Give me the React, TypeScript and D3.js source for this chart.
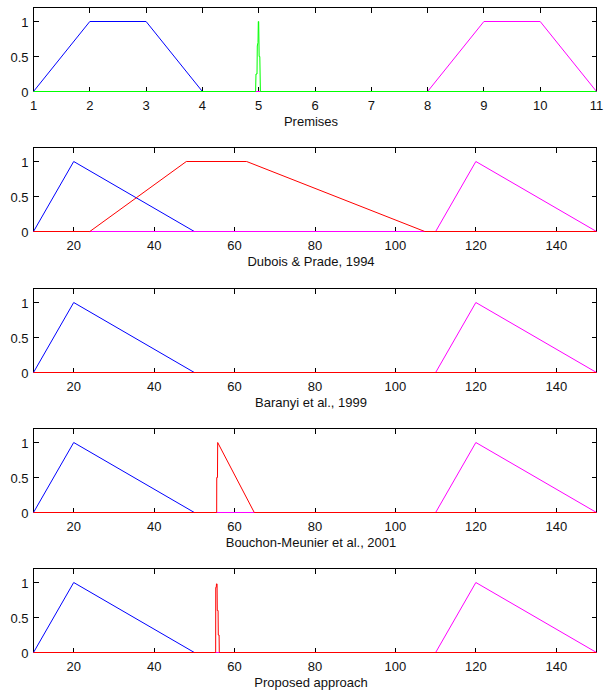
import React from "react";
import * as d3 from "d3";

type P = [number, number];

// ---- data ----
const premisesTicks = [1, 2, 3, 4, 5, 6, 7, 8, 9, 10, 11];
const outputTicks = [20, 40, 60, 80, 100, 120, 140];
const yTicks = [0, 0.5, 1];
const yTickLabels = ["0", "0.5", "1"];
const titles = [
  "Premises",
  "Dubois & Prade, 1994",
  "Baranyi et al., 1999",
  "Bouchon-Meunier et al., 2001",
  "Proposed approach",
];

const premBlue: P[] = [[1, 0], [2, 1], [3, 1], [4, 0], [11, 0]];
const premMagenta: P[] = [[1, 0], [8, 0], [9, 1], [10, 1], [11, 0]];
const premGreen: P[] = [
  [1, 0], [4.945, 0], [4.952, 0.25], [4.97, 0.25], [4.975, 0.65], [4.988, 0.7],
  [4.993, 1], [5.0, 1], [5.008, 0.5], [5.02, 0.5], [5.03, 0], [11, 0],
];

const dpBlue: P[] = [[10, 0], [20, 1], [50, 0], [150, 0]];
const dpMagenta: P[] = [[10, 0], [110, 0], [120, 1], [150, 0]];
const dpRed: P[] = [[10, 0], [24, 0], [48, 1], [63, 1], [107.3, 0], [150, 0]];

const baBlue: P[] = [[10, 0], [20, 1], [50, 0], [150, 0]];
const baMagenta: P[] = [[10, 0], [110, 0], [120, 1], [150, 0]];
const baRed: P[] = [[10, 0], [150, 0]];

const bmBlue: P[] = [[10, 0], [20, 1], [50, 0], [150, 0]];
const bmMagenta: P[] = [[10, 0], [110, 0], [120, 1], [150, 0]];
const bmRed: P[] = [[10, 0], [55.55, 0], [55.57, 0.5], [55.75, 0.5], [55.8, 1], [64.9, 0], [150, 0]];

const prBlue: P[] = [[10, 0], [20, 1], [50, 0], [150, 0]];
const prMagenta: P[] = [[10, 0], [110, 0], [120, 1], [150, 0]];
const prRed: P[] = [
  [10, 0], [55.3, 0], [55.32, 0.93], [55.45, 0.93], [55.5, 0.98], [55.65, 0.98],
  [55.7, 0.6], [55.9, 0.6], [55.95, 0.25], [56.15, 0.25], [56.2, 0], [150, 0],
];

const BLUE = "#0000ff";
const GREEN = "#00ff00";
const MAGENTA = "#ff00ff";
const RED = "#ff0000";

const panels = [
  { domain: [1, 11], ticks: premisesTicks, series: [[premBlue, BLUE], [premMagenta, MAGENTA], [premGreen, GREEN]] },
  { domain: [10, 150], ticks: outputTicks, series: [[dpBlue, BLUE], [dpMagenta, MAGENTA], [dpRed, RED]] },
  { domain: [10, 150], ticks: outputTicks, series: [[baBlue, BLUE], [baMagenta, MAGENTA], [baRed, RED]] },
  { domain: [10, 150], ticks: outputTicks, series: [[bmBlue, BLUE], [bmMagenta, MAGENTA], [bmRed, RED]] },
  { domain: [10, 150], ticks: outputTicks, series: [[prBlue, BLUE], [prMagenta, MAGENTA], [prRed, RED]] },
] as { domain: [number, number]; ticks: number[]; series: [P[], string][] }[];

// ---- layout ----
const W = 604;
const H = 694;
const LEFT = 33.5;
const RIGHT = 596.5;
const TOP0 = 7.5;
const STEP = 140.3;
const PH = 84;
const TICK = 5;
const FONT = "'Liberation Sans', Arial, Helvetica, sans-serif";
const FS = 13;

const px = (v: number) => Math.round(v - 0.5) + 0.5;

function Panel({ idx }: { idx: number }) {
  const p = panels[idx];
  const top = TOP0 + Math.round(idx * STEP);
  const bottom = top + PH;
  const x = d3.scaleLinear().domain(p.domain).range([LEFT, RIGHT]);
  const y = d3.scaleLinear().domain([0, 1.2]).range([bottom, top]);
  const line = d3
    .line<P>()
    .x((d) => x(d[0]))
    .y((d) => y(d[1]));
  return (
    <g>
      <rect x={LEFT} y={top} width={RIGHT - LEFT} height={PH} fill="none" stroke="#000" strokeWidth={1} shapeRendering="crispEdges" />
      {p.ticks.map((t) => (
        <g key={`xt${t}`}>
          <line x1={px(x(t))} x2={px(x(t))} y1={bottom} y2={bottom - TICK} stroke="#000" strokeWidth={1} shapeRendering="crispEdges" />
          <line x1={px(x(t))} x2={px(x(t))} y1={top} y2={top + TICK} stroke="#000" strokeWidth={1} shapeRendering="crispEdges" />
          <text x={x(t)} y={bottom + 14} textAnchor="middle" dominantBaseline="central" fontSize={FS} fontFamily={FONT} fill="#111">
            {t}
          </text>
        </g>
      ))}
      {yTicks.map((t, i) => (
        <g key={`yt${t}`}>
          <line x1={LEFT} x2={LEFT + TICK} y1={px(y(t))} y2={px(y(t))} stroke="#000" strokeWidth={1} shapeRendering="crispEdges" />
          <line x1={RIGHT} x2={RIGHT - TICK} y1={px(y(t))} y2={px(y(t))} stroke="#000" strokeWidth={1} shapeRendering="crispEdges" />
          <text x={LEFT - 5} y={y(t) + 0.5} textAnchor="end" dominantBaseline="central" fontSize={FS} fontFamily={FONT} fill="#111">
            {yTickLabels[i]}
          </text>
        </g>
      ))}
      <g>
        {p.series.map(([data, color], i) => (
          <path key={i} d={line(data) || ""} fill="none" stroke={color} strokeWidth={1} strokeLinejoin="round" />
        ))}
      </g>
      <text x={(LEFT + RIGHT) / 2 - 4} y={bottom + 30} textAnchor="middle" dominantBaseline="central" fontSize={FS} fontFamily={FONT} fill="#111">
        {titles[idx]}
      </text>
    </g>
  );
}

export default function App() {
  return (
    <svg
      width={W}
      height={H}
      viewBox={`0 0 ${W} ${H}`}
      style={{ position: "absolute", left: 0, top: 0, background: "#fff" }}
    >
      <rect x={0} y={0} width={W} height={H} fill="#fff" />
      {panels.map((_, i) => (
        <Panel key={i} idx={i} />
      ))}
    </svg>
  );
}
